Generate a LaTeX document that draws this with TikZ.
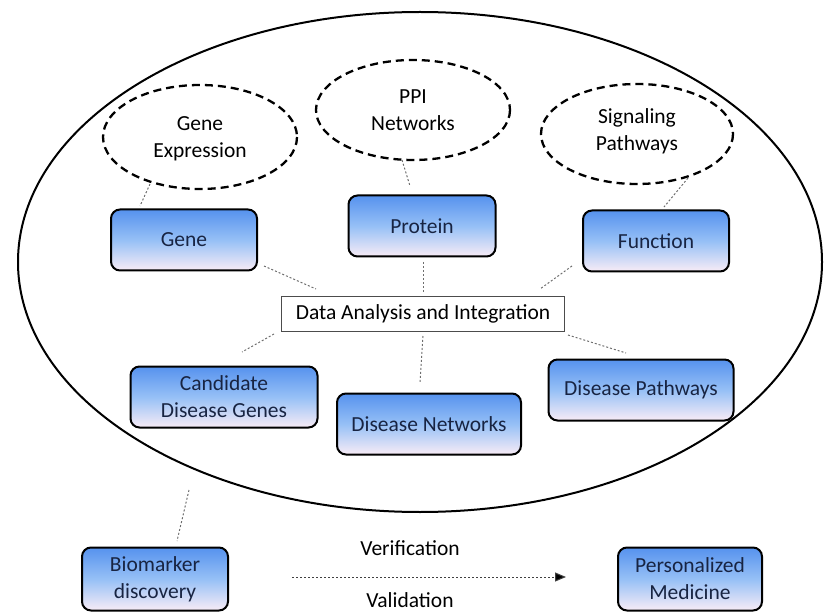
\documentclass[tikz,border=0pt]{standalone}
\usepackage{fontspec}
\setmainfont{Carlito}
\usetikzlibrary{arrows.meta}
\definecolor{boxtop}{RGB}{86,146,238}
\definecolor{boxmid}{RGB}{150,192,246}
\definecolor{boxbot}{RGB}{248,236,246}
\definecolor{boxtext}{RGB}{24,36,66}
\definecolor{linkgray}{RGB}{110,110,110}
\tikzset{
  every node/.style={font=\fontsize{21.5}{27}\selectfont, align=center},
  stepbox/.style={draw=black, line width=2pt, rounded corners=9pt,
    top color=boxtop, bottom color=boxbot, middle color=boxmid, text=boxtext,
    minimum width=#1, minimum height=61pt, inner sep=2pt},
  cloud/.style={draw=black, line width=2.3pt, dash pattern=on 8pt off 5pt},
  link/.style={draw=linkgray, line width=1pt, dash pattern=on 2pt off 2pt},
}
\begin{document}
\begin{tikzpicture}[x=1pt, y=-1pt]
  \useasboundingbox (0,0) rectangle (827,612);
  \clip (0,0) rectangle (827,612);

  % outer ellipse enclosing the data sources and analysis
  \draw[line width=2pt] (420,262) ellipse [x radius=402, y radius=250];

  % dashed data-source ellipses
  \draw[cloud] (200,137) ellipse [x radius=97, y radius=52];
  \draw[cloud] (413,110) ellipse [x radius=97, y radius=50];
  \draw[cloud] (637,134) ellipse [x radius=96, y radius=50];
  \node (ge)  at (200,139) {Gene\\Expression};
  \node (ppi) at (413,110) {PPI\\Networks};
  \node (sp)  at (637,131) {Signaling\\Pathways};
  \coordinate (geb) at (150,184);
  \coordinate (ppib) at (402,160);
  \coordinate (spb) at (688,178);

  % boxes
  \node[stepbox=146pt] (gene) at (184,240) {Gene};
  \node[stepbox=147pt] (prot) at (422,226) {Protein};
  \node[stepbox=146pt] (func) at (656,241) {Function};
  \node[draw=black!70, line width=1pt, minimum width=283pt, minimum height=34pt,
        inner sep=2pt, text=black] (data) at (423,314) {Data Analysis and Integration};
  \node[stepbox=187pt] (cand) at (224,397) {Candidate\\Disease Genes};
  \node[stepbox=184pt] (dnet) at (429,424) {Disease Networks};
  \node[stepbox=185pt] (dpath) at (641,390) {Disease Pathways};
  \node[stepbox=146pt, minimum height=63pt] (bio) at (155,579) {Biomarker\\discovery};
  \node[stepbox=144pt, minimum height=63pt] (pm) at (690,579) {Personalized\\Medicine};

  % dotted links
  \coordinate (g1) at (140,206);
  \coordinate (p1) at (410,186);
  \coordinate (f1) at (664,207);
  \draw[link] (geb) -- (g1);
  \draw[link] (ppib) -- (p1);
  \draw[link] (spb) -- (f1);
  \draw[link] (264,266) -- (316,289);
  \draw[link] (572,266) -- (540,289);
  \draw[link] (423,262) -- (423,293);
  \draw[link] (274,334) -- (242,352);
  \draw[link] (423,336) -- (420,382);
  \draw[link] (568,335) -- (626,353);
  \draw[link] (189,490) -- (177,541);

  % verification / validation arrow
  \node (ver) at (410,548) {Verification};
  \node (val) at (410,600) {Validation};
  \draw[draw=black!75, line width=1pt, dash pattern=on 2pt off 2pt,
        -{Triangle[length=11pt,width=9pt,fill=black]}] (292,577) -- (566,577);
\end{tikzpicture}
\end{document}
